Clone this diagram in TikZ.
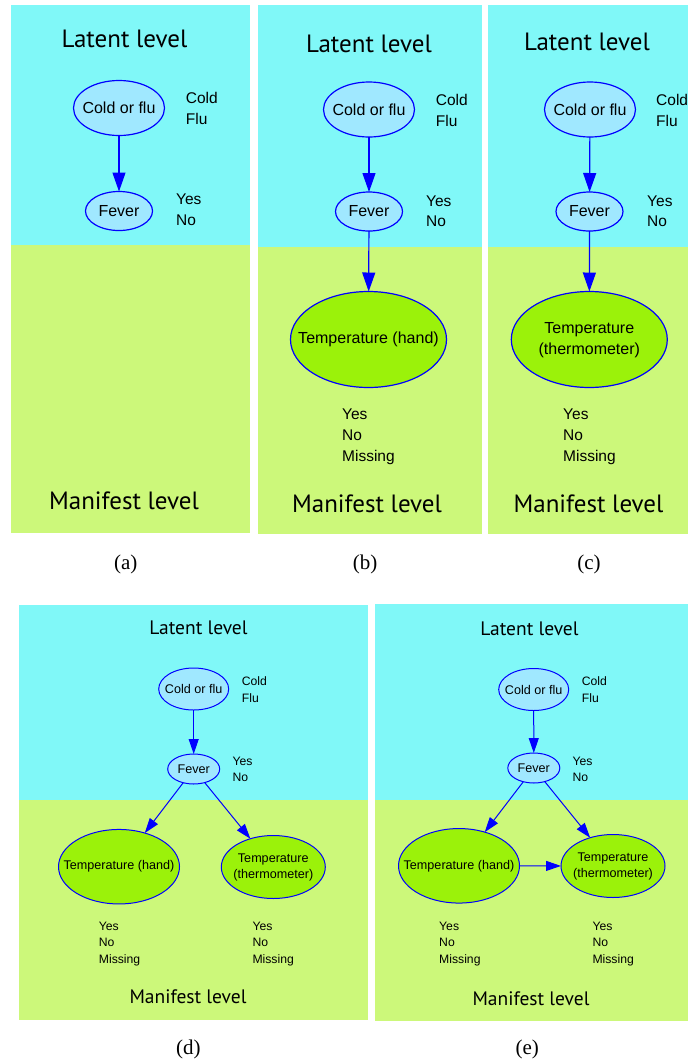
\documentclass[tikz,border=0pt]{standalone}
\usepackage{fontspec}
\newfontfamily\nodefont{Liberation Sans}
\newfontfamily\levelfont{PT Sans}
\newfontfamily\capfont{Liberation Serif}
\usetikzlibrary{shapes.geometric,arrows.meta}

\definecolor{latentbg}{RGB}{128,248,248}
\definecolor{manifestbg}{RGB}{204,248,122}
\definecolor{latentnode}{RGB}{160,232,255}
\definecolor{manifestnode}{RGB}{155,242,10}
\definecolor{edgeblue}{RGB}{0,0,255}

% zero-width box so the ellipse keeps its given size
\newcommand\nowidth[1]{\makebox[0pt]{#1}}

% state lists are placed by the baseline of their last line
\tikzset{
  var/.style={ellipse, draw=edgeblue, inner sep=0pt, outer sep=0pt},
  latentvar/.style={var, fill=latentnode},
  manifestvar/.style={var, fill=manifestnode},
  bigvar/.style={line width=1.2pt, font=\nodefont\fontsize{16}{21}\selectfont},
  smallvar/.style={line width=1pt, font=\nodefont\fontsize{12.6}{16.5}\selectfont},
  bigstates/.style={anchor=base west, align=left, inner sep=0pt,
    font=\nodefont\fontsize{15.5}{20.7}\selectfont},
  smallstates/.style={anchor=base west, align=left, inner sep=0pt,
    font=\nodefont\fontsize{12.2}{16.3}\selectfont},
  biglevel/.style={anchor=base, inner sep=0pt, font=\levelfont\fontsize{25}{30}\selectfont},
  smalllevel/.style={anchor=base, inner sep=0pt, font=\levelfont\fontsize{19.5}{24}\selectfont},
  sublabel/.style={anchor=base, inner sep=0pt, font=\capfont\fontsize{21}{25}\selectfont},
  biglink/.style={draw=edgeblue, line width=1.2pt, -{Triangle[length=19pt,width=13pt]}},
  smalllink/.style={draw=edgeblue, line width=1pt, -{Triangle[length=15pt,width=10pt]}},
}

\begin{document}
\begin{tikzpicture}[x=1pt,y=-1pt]
\useasboundingbox (0,0) rectangle (688,1061);

% ---------- panel backgrounds ----------
\fill[latentbg]   (11,5)    rectangle (250,245);
\fill[manifestbg] (11,245)  rectangle (250,533);
\fill[latentbg]   (258,5)   rectangle (482,247);
\fill[manifestbg] (258,247) rectangle (482,534);
\fill[latentbg]   (488,5)   rectangle (688,247);
\fill[manifestbg] (488,247) rectangle (688,534);
\fill[latentbg]   (19,605)  rectangle (368,800);
\fill[manifestbg] (19,800)  rectangle (368,1020);
\fill[latentbg]   (375,604) rectangle (688,800);
\fill[manifestbg] (375,800) rectangle (688,1021);

% ---------- (a) ----------
\node[biglevel] (a-lat) at (124.5,47) {Latent level};
\node[biglevel] (a-man) at (124,509) {Manifest level};
\node[latentvar, bigvar, minimum width=91pt, minimum height=55pt] (a-cf) at (119,108) {\nowidth{Cold or flu}};
\node[latentvar, bigvar, minimum width=67pt, minimum height=39pt] (a-fev) at (119,211) {\nowidth{Fever}};
\node[bigstates] (a-cfs) at (185.7,124) {Cold\\Flu};
\node[bigstates] (a-fevs) at (176,225.5) {Yes\\No};
\draw[biglink] (a-cf) -- (a-fev);
\node[sublabel] (a-cap) at (125.7,569) {(a)};

% ---------- (b) ----------
\node[biglevel] (b-lat) at (369,52) {Latent level};
\node[biglevel] (b-man) at (367,512) {Manifest level};
\node[latentvar, bigvar, minimum width=91pt, minimum height=55pt] (b-cf) at (369,109.5) {\nowidth{Cold or flu}};
\node[latentvar, bigvar, minimum width=67pt, minimum height=39pt] (b-fev) at (369,211.5) {\nowidth{Fever}};
\node[manifestvar, bigvar, minimum width=156pt, minimum height=96pt] (b-th) at (368.5,339.5) {\nowidth{Temperature (hand)}};
\node[bigstates] (b-cfs) at (435.7,126) {Cold\\Flu};
\node[bigstates] (b-fevs) at (426,226.7) {Yes\\No};
\node[bigstates] (b-ths) at (342,461) {Yes\\No\\Missing};
\draw[biglink] (b-cf) -- (b-fev);
\draw[biglink] (b-fev) -- (b-th);
\node[sublabel] (b-cap) at (365,569) {(b)};

% ---------- (c) ----------
\node[biglevel] (c-lat) at (587,50) {Latent level};
\node[biglevel] (c-man) at (588.5,512) {Manifest level};
\node[latentvar, bigvar, minimum width=91pt, minimum height=55pt] (c-cf) at (590,109.5) {\nowidth{Cold or flu}};
\node[latentvar, bigvar, minimum width=67pt, minimum height=39pt] (c-fev) at (589.5,211.5) {\nowidth{Fever}};
\node[manifestvar, bigvar, minimum width=156pt, minimum height=96pt] (c-tt) at (589.3,339.5)
  {\nowidth{\begin{tabular}{@{}c@{}}Temperature\\(thermometer)\end{tabular}}};
\node[bigstates] (c-cfs) at (656,126) {Cold\\Flu};
\node[bigstates] (c-fevs) at (647,226.7) {Yes\\No};
\node[bigstates] (c-tts) at (563,461) {Yes\\No\\Missing};
\draw[biglink] (c-cf) -- (c-fev);
\draw[biglink] (c-fev) -- (c-tt);
\node[sublabel] (c-cap) at (589,569) {(c)};

% ---------- (d) ----------
\node[smalllevel] (d-lat) at (198.5,634) {Latent level};
\node[smalllevel] (d-man) at (188,1003) {Manifest level};
\node[latentvar, smallvar, minimum width=70pt, minimum height=42pt] (d-cf) at (193.7,689) {\nowidth{Cold or flu}};
\node[latentvar, smallvar, minimum width=52pt, minimum height=30pt] (d-fev) at (193.7,769) {\nowidth{Fever}};
\node[manifestvar, smallvar, minimum width=121pt, minimum height=74.5pt] (d-th) at (119,866.7) {\nowidth{Temperature (hand)}};
\node[manifestvar, smallvar, minimum width=104pt, minimum height=63pt] (d-tt) at (273.3,867)
  {\nowidth{\begin{tabular}{@{}c@{}}Temperature\\(thermometer)\end{tabular}}};
\node[smallstates] (d-cfs) at (241.7,702) {Cold\\Flu};
\node[smallstates] (d-fevs) at (232.3,781.5) {Yes\\No};
\node[smallstates] (d-ths) at (98.7,963) {Yes\\No\\Missing};
\node[smallstates] (d-tts) at (252.3,963) {Yes\\No\\Missing};
\draw[smalllink] (d-cf) -- (d-fev);
\draw[smalllink] (d-fev) -- (d-th);
\draw[smalllink] (d-fev) -- (d-tt);
\node[sublabel] (d-cap) at (188.3,1054) {(d)};

% ---------- (e) ----------
\node[smalllevel] (e-lat) at (529.5,635) {Latent level};
\node[smalllevel] (e-man) at (531,1005) {Manifest level};
\node[latentvar, smallvar, minimum width=70pt, minimum height=42pt] (e-cf) at (533.7,689.5) {\nowidth{Cold or flu}};
\node[latentvar, smallvar, minimum width=52pt, minimum height=30pt] (e-fev) at (533.8,768) {\nowidth{Fever}};
\node[manifestvar, smallvar, minimum width=121pt, minimum height=74.5pt] (e-th) at (459,865.8) {\nowidth{Temperature (hand)}};
\node[manifestvar, smallvar, minimum width=104pt, minimum height=63pt] (e-tt) at (613,866)
  {\nowidth{\begin{tabular}{@{}c@{}}Temperature\\(thermometer)\end{tabular}}};
\node[smallstates] (e-cfs) at (581.7,702) {Cold\\Flu};
\node[smallstates] (e-fevs) at (572.3,781.5) {Yes\\No};
\node[smallstates] (e-ths) at (439,963) {Yes\\No\\Missing};
\node[smallstates] (e-tts) at (592.3,963) {Yes\\No\\Missing};
\draw[smalllink] (e-cf) -- (e-fev);
\draw[smalllink] (e-fev) -- (e-th);
\draw[smalllink] (e-fev) -- (e-tt);
\draw[smalllink] (e-th) -- (e-tt);
\node[sublabel] (e-cap) at (527.3,1054) {(e)};
\end{tikzpicture}
\end{document}
